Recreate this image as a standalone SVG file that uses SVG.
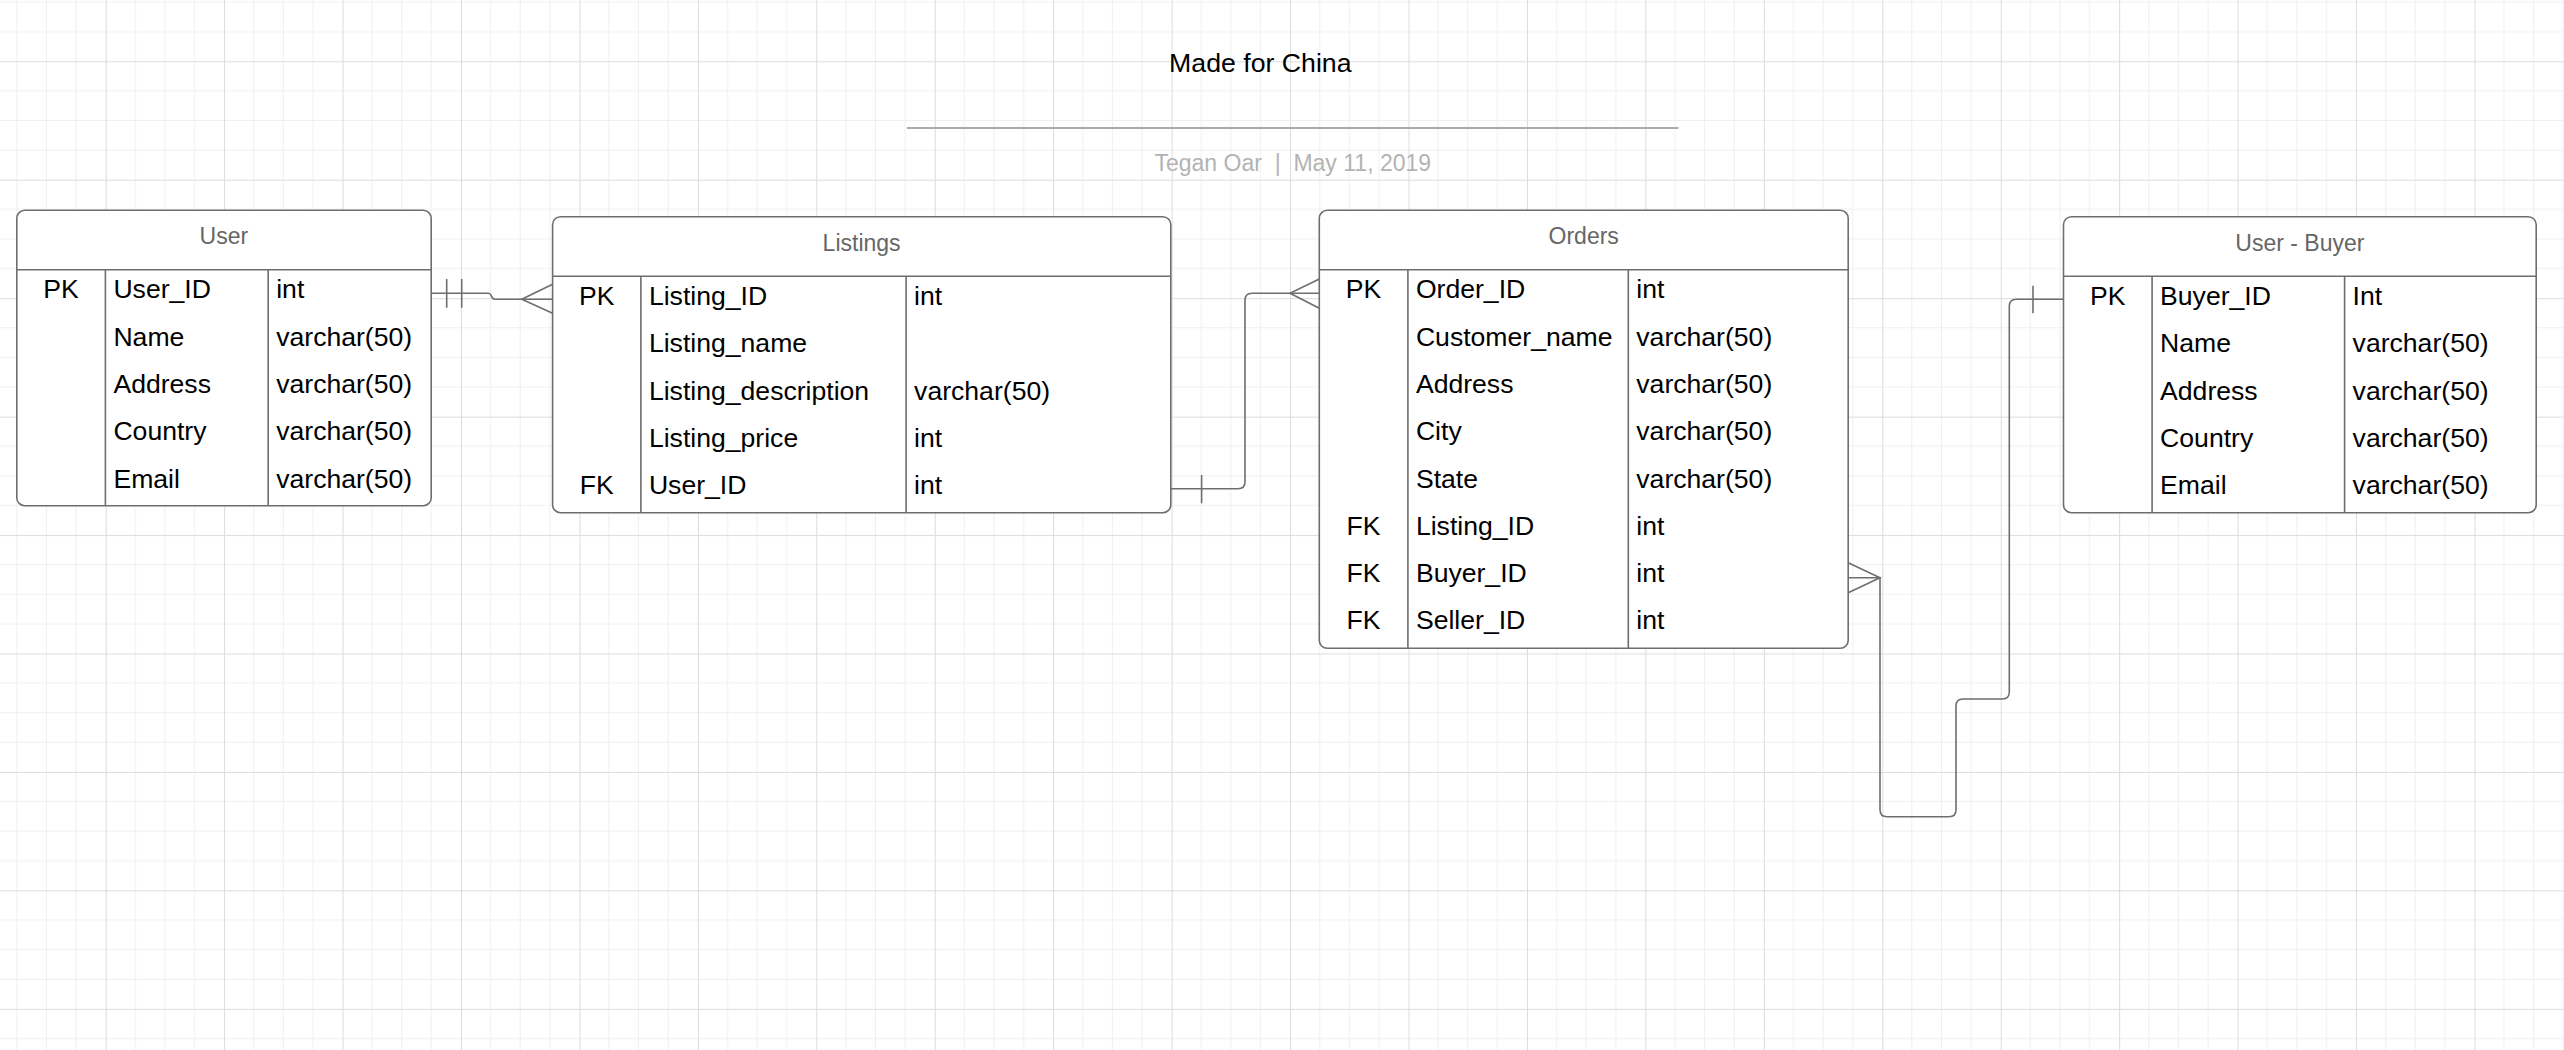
<svg xmlns="http://www.w3.org/2000/svg" width="2564" height="1050" viewBox="0 0 2564 1050">
<defs>
<pattern id="grid" patternUnits="userSpaceOnUse" x="105.66" y="61.3" width="118.44" height="118.44">
<path d="M29.61 0V118.44M59.22 0V118.44M88.83 0V118.44M0 29.61H118.44M0 59.22H118.44M0 88.83H118.44" stroke="#efefef" stroke-width="1" fill="none"/>
<path d="M0.5 0V118.44M0 0.5H118.44" stroke="#dcdcdc" stroke-width="1" fill="none"/>
</pattern>
<style>
.box{fill:#fff;stroke:#6e6e6e;stroke-width:1.6}
.div{stroke:#6e6e6e;stroke-width:1.6;fill:none}
.hd{font-family:"Liberation Sans",Arial,sans-serif;font-size:23px;fill:#666;text-anchor:middle}
.t{font-family:"Liberation Sans",Arial,sans-serif;font-size:26.6px;fill:#000}
.k{font-family:"Liberation Sans",Arial,sans-serif;font-size:26.6px;fill:#000;text-anchor:middle}
.conn{stroke:#6e6e6e;stroke-width:1.6;fill:none}
</style>
</defs>
<rect width="2564" height="1050" fill="#fff"/>
<rect width="2564" height="1050" fill="url(#grid)"/>

<g id="title">
<text x="1260.3" y="71.7" font-family="Liberation Sans, Arial, sans-serif" font-size="26.7" fill="#000" text-anchor="middle">Made for China</text>
<line x1="907" y1="128" x2="1678.5" y2="128" stroke="#aaa" stroke-width="2.2"/>
<text x="1292.8" y="170.7" font-family="Liberation Sans, Arial, sans-serif" font-size="23" fill="#b3b3b3" text-anchor="middle" style="white-space:pre">Tegan Oar  |  May 11, 2019</text>
</g>

<g id="connectors">
<path class="conn" d="M431.2 293.3H488Q490.5 293.3 491.5 296.3Q492.5 299.3 495 299.3H552.6"/>
<path class="conn" d="M446.7 279V307.7M461.7 279V307.7"/>
<path class="conn" d="M552.6 284.3L521.7 299.3L552.6 313.3"/>

<path class="conn" d="M1170.8 488.7H1238Q1245 488.7 1245 481.7V300.3Q1245 293.3 1252 293.3H1319.3"/>
<path class="conn" d="M1201.6 475V503.3"/>
<path class="conn" d="M1319.3 279L1290 293.3L1319.3 308.3"/>

<path class="conn" d="M1848.2 577.7H1880V809.7Q1880 816.7 1887 816.7H1949Q1956 816.7 1956 809.7V706Q1956 699 1963 699H2002.3Q2009.3 699 2009.3 692V306.3Q2009.3 299.3 2016.3 299.3H2063.5"/>
<path class="conn" d="M1848.2 562.7L1880 577.7L1848.2 592.7"/>
<path class="conn" d="M2033 285.7V313.3"/>
</g>

<g id="user">
<rect class="box" x="16.8" y="210.3" width="414.4" height="295.4" rx="8"/>
<path class="div" d="M16.8 269.7H431.2M105.4 269.7V505.7M268.2 269.7V505.7"/>
<text class="hd" x="223.9" y="244">User</text>
<text class="k" x="61.1" y="298.3">PK</text>
<text class="t" x="113.4" y="298.3">User_ID</text><text class="t" x="276.2" y="298.3">int</text>
<text class="t" x="113.4" y="345.6">Name</text><text class="t" x="276.2" y="345.6">varchar(50)</text>
<text class="t" x="113.4" y="392.9">Address</text><text class="t" x="276.2" y="392.9">varchar(50)</text>
<text class="t" x="113.4" y="440.2">Country</text><text class="t" x="276.2" y="440.2">varchar(50)</text>
<text class="t" x="113.4" y="487.5">Email</text><text class="t" x="276.2" y="487.5">varchar(50)</text>
</g>

<g id="listings">
<rect class="box" x="552.6" y="216.7" width="618.2" height="296" rx="8"/>
<path class="div" d="M552.6 276.3H1170.8M640.9 276.3V512.7M906.1 276.3V512.7"/>
<text class="hd" x="861.6" y="251.2">Listings</text>
<text class="k" x="596.7" y="305">PK</text>
<text class="t" x="648.9" y="305">Listing_ID</text><text class="t" x="914.1" y="305">int</text>
<text class="t" x="648.9" y="352.3">Listing_name</text>
<text class="t" x="648.9" y="399.6">Listing_description</text><text class="t" x="914.1" y="399.6">varchar(50)</text>
<text class="t" x="648.9" y="446.9">Listing_price</text><text class="t" x="914.1" y="446.9">int</text>
<text class="k" x="596.7" y="494.2">FK</text>
<text class="t" x="648.9" y="494.2">User_ID</text><text class="t" x="914.1" y="494.2">int</text>
</g>

<g id="orders">
<rect class="box" x="1319.3" y="210.3" width="528.9" height="438" rx="8"/>
<path class="div" d="M1319.3 269.7H1848.2M1407.9 269.7V648.3M1628.3 269.7V648.3"/>
<text class="hd" x="1583.7" y="244">Orders</text>
<text class="k" x="1363.6" y="298.3">PK</text>
<text class="t" x="1415.9" y="298.3">Order_ID</text><text class="t" x="1636.3" y="298.3">int</text>
<text class="t" x="1415.9" y="345.6">Customer_name</text><text class="t" x="1636.3" y="345.6">varchar(50)</text>
<text class="t" x="1415.9" y="392.9">Address</text><text class="t" x="1636.3" y="392.9">varchar(50)</text>
<text class="t" x="1415.9" y="440.2">City</text><text class="t" x="1636.3" y="440.2">varchar(50)</text>
<text class="t" x="1415.9" y="487.5">State</text><text class="t" x="1636.3" y="487.5">varchar(50)</text>
<text class="k" x="1363.6" y="534.8">FK</text>
<text class="t" x="1415.9" y="534.8">Listing_ID</text><text class="t" x="1636.3" y="534.8">int</text>
<text class="k" x="1363.6" y="582.1">FK</text>
<text class="t" x="1415.9" y="582.1">Buyer_ID</text><text class="t" x="1636.3" y="582.1">int</text>
<text class="k" x="1363.6" y="629.4">FK</text>
<text class="t" x="1415.9" y="629.4">Seller_ID</text><text class="t" x="1636.3" y="629.4">int</text>
</g>

<g id="user-buyer">
<rect class="box" x="2063.5" y="216.7" width="472.7" height="296" rx="8"/>
<path class="div" d="M2063.5 276.3H2536.2M2152.1 276.3V512.7M2344.6 276.3V512.7"/>
<text class="hd" x="2299.9" y="251.2">User - Buyer</text>
<text class="k" x="2107.8" y="305">PK</text>
<text class="t" x="2160.1" y="305">Buyer_ID</text><text class="t" x="2352.6" y="305">Int</text>
<text class="t" x="2160.1" y="352.3">Name</text><text class="t" x="2352.6" y="352.3">varchar(50)</text>
<text class="t" x="2160.1" y="399.6">Address</text><text class="t" x="2352.6" y="399.6">varchar(50)</text>
<text class="t" x="2160.1" y="446.9">Country</text><text class="t" x="2352.6" y="446.9">varchar(50)</text>
<text class="t" x="2160.1" y="494.2">Email</text><text class="t" x="2352.6" y="494.2">varchar(50)</text>
</g>
</svg>
